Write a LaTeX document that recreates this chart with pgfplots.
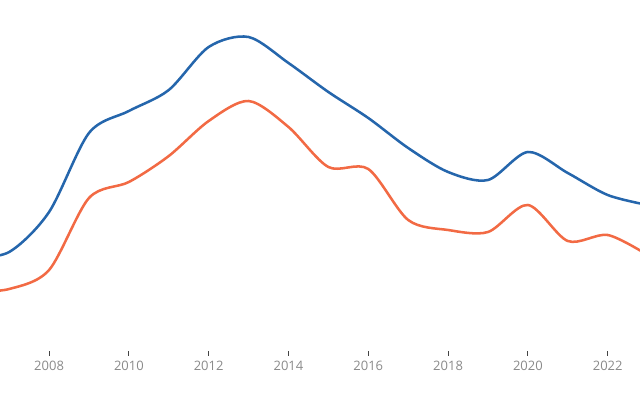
\documentclass[border=0pt]{standalone}
\usepackage{pgfplots}
\pgfplotsset{compat=1.18}
\usepackage{fontspec}
\setmainfont{Open Sans}
\definecolor{cblue}{HTML}{2566AC}
\definecolor{corange}{HTML}{F26A44}
\definecolor{ticklab}{HTML}{8A8A8A}
\definecolor{tickc}{HTML}{444444}
\begin{document}
\begin{tikzpicture}
\path[use as bounding box] (0,-33pt) rectangle (480pt,267pt);
\begin{axis}[
  scale only axis,
  width=480pt, height=267pt,
  xmin=2006.77, xmax=2022.81,
  ymin=0, ymax=356,
  axis x line*=bottom,
  axis y line=none,
  x axis line style={draw opacity=0},
  ytick=\empty,
  xtick={2008,2010,...,2022},
  xticklabel style={/pgf/number format/1000 sep={}, font=\fontsize{9.75pt}{11pt}\selectfont, text=ticklab},
  /pgf/number format/assume math mode=true,
  every tick/.style={draw=tickc, draw opacity=1, line width=0.75pt},
  major tick length=3.6pt,
  tick align=inside,
]
\addplot[cblue, line width=1.9pt, smooth, tension=0.5] coordinates {
(2006,98) (2007,104) (2008,144) (2009,223) (2010,245) (2011,266) (2012,309) (2013,319)
(2014,293) (2015,264) (2016,238) (2017,208) (2018,184) (2019,176) (2020,204) (2021,183)
(2022,161) (2023,151)};
\addplot[corange, line width=1.9pt, smooth, tension=0.5] coordinates {
(2006,64) (2007,67) (2008,86) (2009,158) (2010,174) (2011,200) (2012,235) (2013,255)
(2014,229) (2015,189) (2016,187) (2017,136) (2018,126) (2019,124) (2020,151) (2021,115)
(2022,121) (2023,101)};
\end{axis}
\end{tikzpicture}
\end{document}
